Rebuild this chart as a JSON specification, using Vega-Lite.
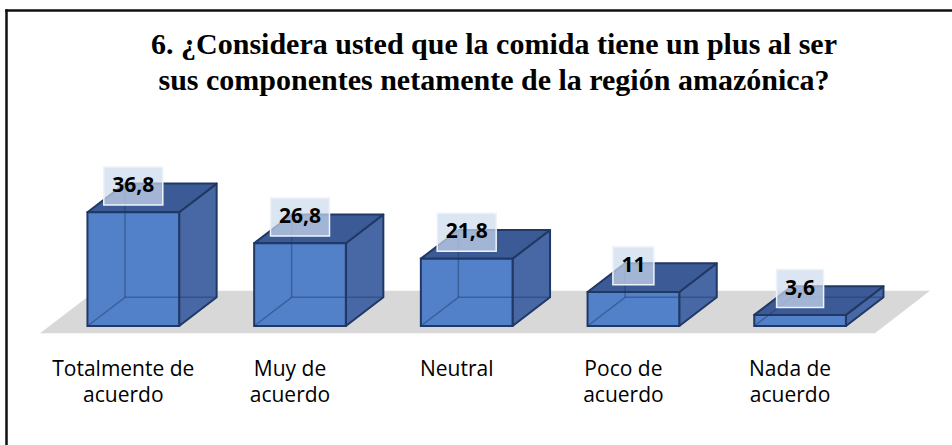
{
  "$schema": "https://vega.github.io/schema/vega-lite/v6.json",
  "width": 946,
  "height": 435,
  "autosize": {"type": "none"},
  "padding": {"left": 6, "top": 10, "right": 0, "bottom": 0},
  "background": "white",
  "title": {
    "text": ["6. ¿Considera usted que la comida tiene un plus al ser", "sus componentes netamente de la región amazónica?"],
    "font": "Liberation Serif",
    "fontSize": 30,
    "fontWeight": "bold",
    "color": "#000000",
    "anchor": "middle",
    "frame": "group",
    "lineHeight": 36,
    "offset": -86,
    "dx": 15
  },
  "config": {
    "view": {"stroke": null},
    "locale": {"number": {"decimal": ",", "thousands": ".", "grouping": [3], "currency": ["", " €"]}}
  },
  "data": {
    "values": [
      {"cat": "Totalmente de\nacuerdo", "value": 36.8},
      {"cat": "Muy de\nacuerdo", "value": 26.8},
      {"cat": "Neutral", "value": 21.8},
      {"cat": "Poco de\nacuerdo", "value": 11},
      {"cat": "Nada de\nacuerdo", "value": 3.6}
    ]
  },
  "transform": [{"window": [{"op": "row_number", "as": "idx"}]}],
  "encoding": {
    "x": {
      "field": "px", "type": "quantitative", "stack": null,
      "scale": {"domain": [0.2364, 5.9112], "nice": false, "zero": false},
      "axis": {"orient": "top", "domain": true, "domainColor": "#111111", "domainWidth": 2.5, "domainCap": "square", "ticks": false, "labels": false, "grid": false, "title": null}
    },
    "y": {
      "field": "py", "type": "quantitative", "stack": null,
      "scale": {"domain": [-38.51, 102.27], "nice": false, "zero": false},
      "axis": {"orient": "left", "domain": true, "domainColor": "#111111", "domainWidth": 2.5, "domainCap": "square", "ticks": false, "labels": false, "grid": false, "title": null}
    }
  },
  "layer": [
    {
      "transform": [
        {"aggregate": [{"op": "min", "field": "idx", "as": "lo"}, {"op": "max", "field": "idx", "as": "hi"}]},
        {"calculate": "[0,1]", "as": "k"},
        {"flatten": ["k"]},
        {"calculate": "datum.lo - 0.5597 + datum.k*0.3341", "as": "px"},
        {"calculate": "datum.hi + 0.449 + datum.k*0.33", "as": "px2"},
        {"calculate": "datum.k == 0 ? -2.36 : 11.42", "as": "py"}
      ],
      "mark": {"type": "area", "orient": "horizontal", "fill": "#d9d8d9"},
      "encoding": {"x2": {"field": "px2"}}
    },
    {
      "transform": [
        {"calculate": "[0,1]", "as": "k"},
        {"flatten": ["k"]},
        {"calculate": "datum.idx + 0.275 + datum.k*0.225", "as": "px"},
        {"calculate": "datum.k*9.29", "as": "py"},
        {"calculate": "datum.value + datum.k*9.29", "as": "py2"}
      ],
      "mark": {"type": "area", "orient": "vertical", "fill": "#4867a5", "stroke": "#1f3864", "strokeWidth": 2, "strokeJoin": "round"},
      "encoding": {"y2": {"field": "py2"}, "detail": {"field": "cat"}}
    },
    {
      "transform": [
        {"calculate": "[0,1]", "as": "k"},
        {"flatten": ["k"]},
        {"calculate": "datum.idx - 0.275 + datum.k*0.225", "as": "px"},
        {"calculate": "datum.idx + 0.275 + datum.k*0.225", "as": "px2"},
        {"calculate": "datum.value + datum.k*9.29", "as": "py"}
      ],
      "mark": {"type": "area", "orient": "horizontal", "fill": "#3c5a96", "stroke": "#1f3864", "strokeWidth": 2, "strokeJoin": "round"},
      "encoding": {"x2": {"field": "px2"}, "detail": {"field": "cat"}}
    },
    {
      "transform": [
        {"calculate": "datum.idx - 0.275", "as": "px"},
        {"calculate": "datum.idx + 0.275", "as": "px2"},
        {"calculate": "0", "as": "py"},
        {"calculate": "datum.value", "as": "py2"}
      ],
      "mark": {"type": "rect", "fill": "#5281c9", "stroke": "#1f3864", "strokeWidth": 2},
      "encoding": {"x2": {"field": "px2"}, "y2": {"field": "py2"}}
    },
    {
      "transform": [
        {"calculate": "[0,1,2]", "as": "k"},
        {"flatten": ["k"]},
        {"calculate": "datum.k == 2 ? datum.idx - 0.275 : datum.idx - 0.05", "as": "px"},
        {"calculate": "datum.k == 1 ? datum.idx + 0.5 : datum.idx - 0.05", "as": "px2"},
        {"calculate": "datum.k == 2 ? 0 : 9.29", "as": "py"},
        {"calculate": "datum.k == 0 ? datum.value + 9.29 : 9.29", "as": "py2"}
      ],
      "mark": {"type": "rule", "stroke": "#1f3864", "strokeWidth": 1.5, "opacity": 0.45},
      "encoding": {"x2": {"field": "px2"}, "y2": {"field": "py2"}, "detail": {"field": "k"}}
    },
    {
      "transform": [
        {"calculate": "(length(toString(datum.value))*12 - (datum.value % 1 ? 6 : 0) + 17) / 333.4", "as": "hw"},
        {"calculate": "datum.idx - datum.hw", "as": "px"},
        {"calculate": "datum.idx + datum.hw", "as": "px2"},
        {"calculate": "datum.value + 9.29 - 0.78 - 6.15", "as": "py"},
        {"calculate": "datum.value + 9.29 - 0.78 + 6.15", "as": "py2"}
      ],
      "mark": {"type": "rect", "fill": "#cddbee", "fillOpacity": 0.7, "stroke": "#eef3fa", "strokeWidth": 1.5},
      "encoding": {"x2": {"field": "px2"}, "y2": {"field": "py2"}}
    },
    {
      "transform": [
        {"calculate": "datum.idx", "as": "px"},
        {"calculate": "datum.value + 8.51", "as": "py"}
      ],
      "mark": {"type": "text", "font": "Open Sans", "fontSize": 21, "fontWeight": "bold", "color": "#000000", "baseline": "middle", "align": "center"},
      "encoding": {"text": {"field": "value", "type": "quantitative", "format": "~g"}}
    },
    {
      "transform": [
        {"calculate": "datum.idx - 0.06", "as": "px"},
        {"calculate": "-16.08", "as": "py"}
      ],
      "mark": {"type": "text", "font": "Open Sans", "fontSize": 21, "color": "#000000", "baseline": "alphabetic", "align": "center", "lineBreak": "\n", "lineHeight": 26.6},
      "encoding": {"text": {"field": "cat"}}
    }
  ]
}
